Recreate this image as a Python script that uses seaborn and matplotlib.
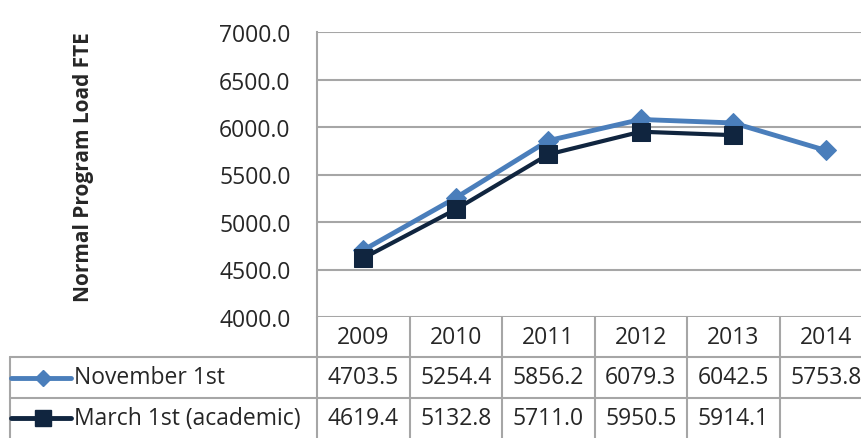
import numpy as np
import matplotlib.pyplot as plt
import seaborn as sns

years = ['2009', '2010', '2011', '2012', '2013', '2014']
november = [4703.5, 5254.4, 5856.2, 6079.3, 6042.5, 5753.8]
march = [4619.4, 5132.8, 5711.0, 5950.5, 5914.1, np.nan]
series_names = ['November 1st', 'March 1st (academic)']
yticks = [4000, 4500, 5000, 5500, 6000, 6500, 7000]

sns.set_style('white')
plt.rcParams['font.family'] = ['Open Sans', 'DejaVu Sans']

blue = '#4A7EBB'
navy = '#10253F'
gray = '#A6A6A6'
fs = 16.5

W, H = 861, 439
fig = plt.figure(figsize=(W / 100, H / 100), dpi=100)

# chart area (right edge runs a bit past the figure like the original crop)
ax = fig.add_axes([317 / W, (H - 318) / H, 555 / W, 285 / H])
pos = np.arange(len(years))
sns.lineplot(x=pos, y=november, ax=ax, color=blue, lw=3.5, marker='D',
             markersize=10, markeredgecolor=blue)
sns.lineplot(x=pos, y=march, ax=ax, color=navy, lw=3, marker='s',
             markersize=13, markeredgecolor=navy)
ax.set_xlim(-0.5, 5.5)
ax.set_ylim(yticks[0], yticks[-1])
ax.set_yticks(yticks)
ax.set_yticklabels([f'{v:.1f}' for v in yticks], fontsize=fs)
ax.set_xticks([])
ax.tick_params(axis='y', length=0, pad=19)
ax.yaxis.grid(True, color=gray, lw=1.5)
ax.set_axisbelow(True)
for s in ['top', 'right', 'bottom']:
    ax.spines[s].set_visible(False)
ax.spines['left'].set_color(gray)
ax.spines['left'].set_linewidth(1.5)

fig.text(84 / W, 1 - 167 / H, 'Normal Program Load FTE', rotation=90,
         ha='center', va='center', fontsize=15, fontweight='bold')

# data table underneath
tax = fig.add_axes([10 / W, 0, 862 / W, (H - 318) / H])
left = -0.5 - 307 / 92.5
tax.set_xlim(left, 5.5)
tax.set_ylim(3, 0)
tax.axis('off')
lk = dict(color=gray, lw=1.5, clip_on=False)
for k in range(len(years) + 1):
    tax.plot([k - 0.5, k - 0.5], [0, 3], **lk)
tax.plot([left, left], [1, 3], **lk)
for r in [1, 2]:
    tax.plot([left, 5.5], [r, r], **lk)

for i, y in enumerate(years):
    tax.text(i, 0.5, y, ha='center', va='center', fontsize=fs)

rows = [(november, blue, 'D', 10), (march, navy, 's', 13)]
for r, (vals, c, m, ms) in enumerate(rows, start=1):
    tax.plot([left + 0.01, left + 0.66], [r + 0.5, r + 0.5], color=c, lw=3.5,
             clip_on=False)
    tax.plot([left + 0.36], [r + 0.5], marker=m, markersize=ms * 0.85, color=c,
             clip_on=False)
    tax.text(left + 0.69, r + 0.5, series_names[r - 1], ha='left', va='center',
             fontsize=fs)
    for i, v in enumerate(vals):
        if not np.isnan(v):
            tax.text(i, r + 0.5, f'{v:.1f}', ha='center', va='center', fontsize=fs)

fig.savefig('out.png', dpi=100)
